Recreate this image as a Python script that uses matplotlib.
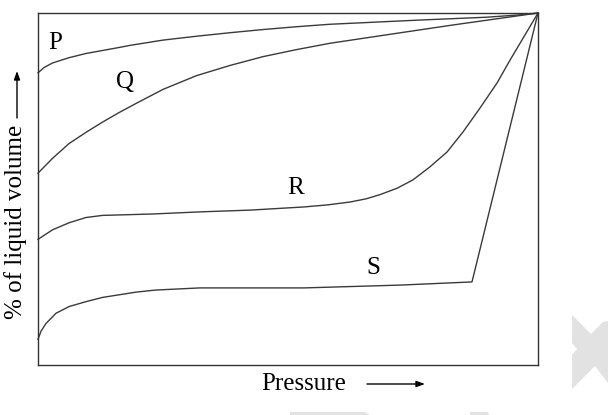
import matplotlib
matplotlib.use("Agg")
import matplotlib.pyplot as plt
from matplotlib.patches import Polygon

# curves: pressure (0-100) vs % of liquid volume (0-100)
p_x = [0, 1.2, 2.9, 6.2, 9.6, 16.2, 18.4, 25.0, 31.7, 38.4, 45.0, 51.7, 58.4, 76.4, 89.7, 95.7, 100]
p_y = [83.0, 84.5, 85.8, 87.3, 88.5, 90.2, 90.8, 92.3, 93.4, 94.4, 95.3, 96.1, 96.8, 98.0, 98.8, 99.4, 100]

q_x = [0, 2.9, 6.2, 9.6, 12.9, 16.2, 19.6, 25.0, 31.7, 38.4, 45.0, 51.7, 58.4, 69.7, 83.0, 100]
q_y = [54.5, 58.7, 62.9, 66.1, 69.0, 71.7, 74.3, 78.3, 82.2, 85.1, 87.6, 89.6, 91.4, 93.8, 96.6, 100]

r_x = [0, 2.9, 6.2, 9.6, 12.9, 22.9, 32.4, 42.4, 53.2, 58.0, 62.4, 65.6, 68.4, 71.8, 75.0,
       78.4, 81.8, 85.0, 88.4, 91.8, 94.4, 100]
r_y = [35.7, 38.4, 40.4, 41.9, 42.5, 42.9, 43.5, 44.0, 44.9, 45.5, 46.3, 47.2, 48.4, 50.2, 52.6,
       56.3, 60.5, 66.2, 73.0, 80.1, 86.6, 100]

s_x = [0, 0.6, 1.6, 3.6, 6.2, 9.6, 12.9, 19.6, 23.6, 32.4, 53.2, 72.4, 86.8, 100]
s_y = [7.3, 9.6, 11.8, 14.7, 16.6, 18.0, 19.2, 20.7, 21.3, 21.9, 21.9, 22.7, 23.6, 100]

curve_names = ["P", "Q", "R", "S"]
label_pos = [(3.4, 91.5), (17.4, 80.4), (51.6, 50.3), (67.0, 27.6)]

W, H = 608, 415
serif = ["Liberation Serif", "DejaVu Serif"]
line_col = "#3a3a3a"

fig = plt.figure(figsize=(W / 100, H / 100), dpi=100)

# overlay in pixel coords for watermark and axis arrows
bg = fig.add_axes([0, 0, 1, 1], zorder=0)
bg.set_xlim(0, W)
bg.set_ylim(H, 0)
bg.axis("off")
grey = "#e2e2e2"
bg.add_patch(Polygon([(572, 315), (591, 334), (603, 322), (608, 321), (608, 383),
                      (595, 366), (572, 389), (572, 355), (577, 349), (572, 343)],
                     closed=True, fc=grey, ec="none"))
bg.add_patch(Polygon([(290, 412), (365, 412), (370, 415), (290, 415)],
                     closed=True, fc=grey, ec="none"))
bg.add_patch(Polygon([(470, 412), (487, 412), (490, 415), (470, 415)],
                     closed=True, fc=grey, ec="none"))

arrow = dict(arrowstyle="-|>,head_length=0.5,head_width=0.18", color="black", lw=1.0,
             shrinkA=0, shrinkB=0)
bg.annotate("", xy=(17, 71), xytext=(17, 118), arrowprops=arrow)
bg.annotate("", xy=(425, 384), xytext=(367, 384), arrowprops=arrow)
bg.text(304, 384, "Pressure", ha="center", va="center", fontsize=18, family=serif)
bg.text(16, 222, "% of liquid volume", ha="center", va="center", rotation=90,
        fontsize=18, family=serif)

ax = fig.add_axes([38 / W, 50 / H, 500 / W, 352 / H], zorder=1)
ax.patch.set_alpha(0)
for xs, ys in [(p_x, p_y), (q_x, q_y), (r_x, r_y), (s_x, s_y)]:
    ax.plot(xs, ys, color=line_col, lw=1.0, solid_joinstyle="round", clip_on=False)
for name, (lx, ly) in zip(curve_names, label_pos):
    ax.text(lx, ly, name, ha="center", va="center", fontsize=18, family=serif)

ax.set_xlim(0, 100)
ax.set_ylim(0, 100)
ax.set_xticks([])
ax.set_yticks([])
for sp in ax.spines.values():
    sp.set_color("#333333")
    sp.set_linewidth(1.0)

fig.savefig("out.png", dpi=100)
